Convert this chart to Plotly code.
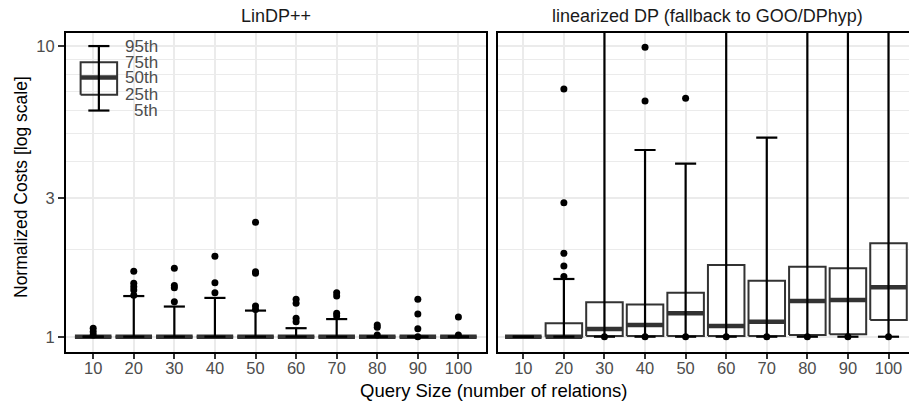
import numpy as np
import plotly.graph_objects as go

# ---------------- data ----------------
sizes = ["10", "20", "30", "40", "50", "60", "70", "80", "90", "100"]
panel_titles = ["LinDP++", "linearized DP (fallback to GOO/DPhyp)"]
x_title = "Query Size (number of relations)"
y_title = "Normalized Costs [log scale]"
y_ticks = [1, 3, 10]
y_minor = [2, 4, 5, 6, 7, 8, 9]

# LinDP++
lin_p5 = [1, 1, 1, 1, 1, 1, 1, 1, 1, 1]
lin_p25 = [1, 1, 1, 1, 1, 1, 1, 1, 1, 1]
lin_p50 = [1, 1, 1, 1, 1, 1, 1, 1, 1, 1]
lin_p75 = [1, 1, 1, 1, 1, 1, 1, 1, 1, 1]
lin_p95 = [1.0, 1.38, 1.27, 1.36, 1.23, 1.07, 1.15, 1.0, 1.0, 1.0]
lin_out = [
    [1.07, 1.04, 1.013],
    [1.68, 1.526, 1.486, 1.447, 1.39],
    [1.72, 1.50, 1.475, 1.32],
    [1.89, 1.534, 1.417],
    [2.475, 1.673, 1.652, 1.275, 1.24],
    [1.345, 1.303, 1.157, 1.126],
    [1.417, 1.38, 1.204, 1.178],
    [1.097, 1.077, 1.013],
    [1.345, 1.197, 1.065, 1.0],
    [1.169, 1.013],
]

# linearized DP (fallback to GOO/DPhyp)
ldp_p5 = [1, 1, 1, 1, 1, 1, 1, 1, 1, 1]
ldp_p25 = [1, 1, 1.005, 1.005, 1.005, 1.005, 1.005, 1.013, 1.019, 1.141]
ldp_p50 = [1, 1, 1.063, 1.097, 1.204, 1.088, 1.126, 1.327, 1.337, 1.479]
ldp_p75 = [1, 1.112, 1.313, 1.292, 1.417, 1.765, 1.558, 1.741, 1.719, 2.096]
ldp_p95 = [1, 1.58, 15, 4.39, 3.94, 15, 4.84, 15, 15, 15]
ldp_out = [
    [],
    [7.11, 2.89, 1.936, 1.75, 1.61],
    [1.0],
    [9.9, 6.47, 1.0],
    [6.61, 1.0],
    [1.0],
    [1.0],
    [1.0],
    [1.0],
    [1.0],
]

# percentile key (drawn inside first panel)
key_pos = 1.14
key_q = [6.0, 6.8, 7.8, 8.8, 10.0]
key_labels = ["5th", "25th", "50th", "75th", "95th"]
key_label_pos = 2.64

# ---------------- style ----------------
FONT = "Liberation Sans"
BOX_C = "#333333"
GRID_C = "#ebebeb"
TXT_C = "#4d4d4d"
BOX_HW = 0.45
CAP_HW = 0.26

fig = go.Figure()


def add_boxes(xs, p5, p25, p50, p75, p95, out, xa, ya):
    bx, by, mx, my, wx, wy, ox, oy = [], [], [], [], [], [], [], []
    for i, x in enumerate(xs):
        l, r = x - BOX_HW, x + BOX_HW
        bx += [l, r, r, l, l, None]
        by += [p25[i], p25[i], p75[i], p75[i], p25[i], None]
        mx += [l, r, None]
        my += [p50[i], p50[i], None]
        cl, cr = x - CAP_HW, x + CAP_HW
        wx += [x, x, None, cl, cr, None, cl, cr, None]
        wy += [p5[i], p95[i], None, p5[i], p5[i], None, p95[i], p95[i], None]
        for v in out[i]:
            ox.append(x)
            oy.append(v)
    common = dict(xaxis=xa, yaxis=ya, showlegend=False, hoverinfo="skip")
    fig.add_trace(go.Scatter(x=bx, y=by, mode="lines",
                             line=dict(color=BOX_C, width=2), **common))
    fig.add_trace(go.Scatter(x=mx, y=my, mode="lines",
                             line=dict(color=BOX_C, width=4.5), **common))
    fig.add_trace(go.Scatter(x=wx, y=wy, mode="lines",
                             line=dict(color="black", width=2.2), **common))
    if ox:
        fig.add_trace(go.Scatter(x=ox, y=oy, mode="markers",
                                 marker=dict(color="black", size=7), **common))


idx = list(range(1, len(sizes) + 1))
add_boxes(idx, lin_p5, lin_p25, lin_p50, lin_p75, lin_p95, lin_out, "x", "y")
add_boxes([key_pos], [key_q[0]], [key_q[1]], [key_q[2]], [key_q[3]], [key_q[4]],
          [[]], "x", "y")
add_boxes(idx, ldp_p5, ldp_p25, ldp_p50, ldp_p75, ldp_p95, ldp_out, "x2", "y2")

# ---------------- layout ----------------
W, H = 909, 403
ML, MR, MT, MB = 66, 0, 33, 51
PW = W - ML - MR
PH = H - MT - MB
yr = [np.log10(0.886), np.log10(11.09)]

xcommon = dict(
    tickmode="array", tickvals=idx, ticktext=sizes,
    ticks="outside", ticklen=5, tickwidth=1.5, tickcolor=BOX_C,
    tickfont=dict(family=FONT, size=16.5, color=TXT_C),
    ticklabelstandoff=-5,
    showline=True, linecolor="black", linewidth=2, mirror=True,
    showgrid=True, gridcolor=GRID_C, gridwidth=2, zeroline=False,
)
ycommon = dict(
    type="log", range=yr, tickmode="array", tickvals=y_ticks,
    ticktext=[str(v) for v in y_ticks],
    showgrid=True, gridcolor=GRID_C, gridwidth=2, zeroline=False,
    minor=dict(tickmode="array", tickvals=y_minor, showgrid=True,
               gridcolor=GRID_C, gridwidth=1, ticks=""),
    showline=True, linecolor="black", linewidth=2,
)

fig.update_layout(
    width=W, height=H,
    margin=dict(l=ML, r=MR, t=MT, b=MB, pad=0),
    paper_bgcolor="white", plot_bgcolor="white",
    font=dict(family=FONT, color="black"),
    xaxis=dict(domain=[0, 420 / PW], range=[0.33, 10.68], anchor="y", **xcommon),
    xaxis2=dict(domain=[(497.7 - ML) / PW, 1], range=[0.369, 10.505],
                anchor="y2", **xcommon),
    yaxis=dict(anchor="x", mirror=True, ticks="outside", ticklen=6,
               tickwidth=1.5, tickcolor=BOX_C,
               tickfont=dict(family=FONT, size=16.5, color=TXT_C), **ycommon),
    yaxis2=dict(anchor="x2", mirror=False, ticks="", showticklabels=False,
                **ycommon),
)

ann = []
# strip titles
ann.append(dict(text=panel_titles[0], xref="paper", yref="paper",
                x=(276 - ML) / PW, y=(H - MB - 16) / PH, showarrow=False,
                xanchor="center", yanchor="middle",
                font=dict(family=FONT, size=18, color="#1a1a1a")))
ann.append(dict(text=panel_titles[1], xref="paper", yref="paper",
                x=(707.7 - ML) / PW, y=(H - MB - 16) / PH, showarrow=False,
                xanchor="center", yanchor="middle",
                font=dict(family=FONT, size=18, color="#1a1a1a")))
# axis titles
ann.append(dict(text=x_title, xref="paper", yref="paper",
                x=(493.5 - ML) / PW, y=(H - MB - 390) / PH, showarrow=False,
                xanchor="center", yanchor="middle",
                font=dict(family=FONT, size=18.5, color="black")))
ann.append(dict(text=y_title, xref="paper", yref="paper",
                x=(21 - ML) / PW, y=(H - MB - 187) / PH, showarrow=False,
                textangle=-90, xanchor="center", yanchor="middle",
                font=dict(family=FONT, size=17.5, color="black")))
# percentile key labels
for q, lab in zip(key_q, key_labels):
    ann.append(dict(text=lab, xref="x", yref="y", x=key_label_pos,
                    y=np.log10(q), showarrow=False, xanchor="right",
                    yanchor="middle",
                    font=dict(family=FONT, size=17, color=TXT_C)))
fig.update_layout(annotations=ann)

fig.write_html(
    "out.html",
    config={"displayModeBar": False},
    post_script="document.body.style.margin='0';document.body.style.overflow='hidden';",
)
